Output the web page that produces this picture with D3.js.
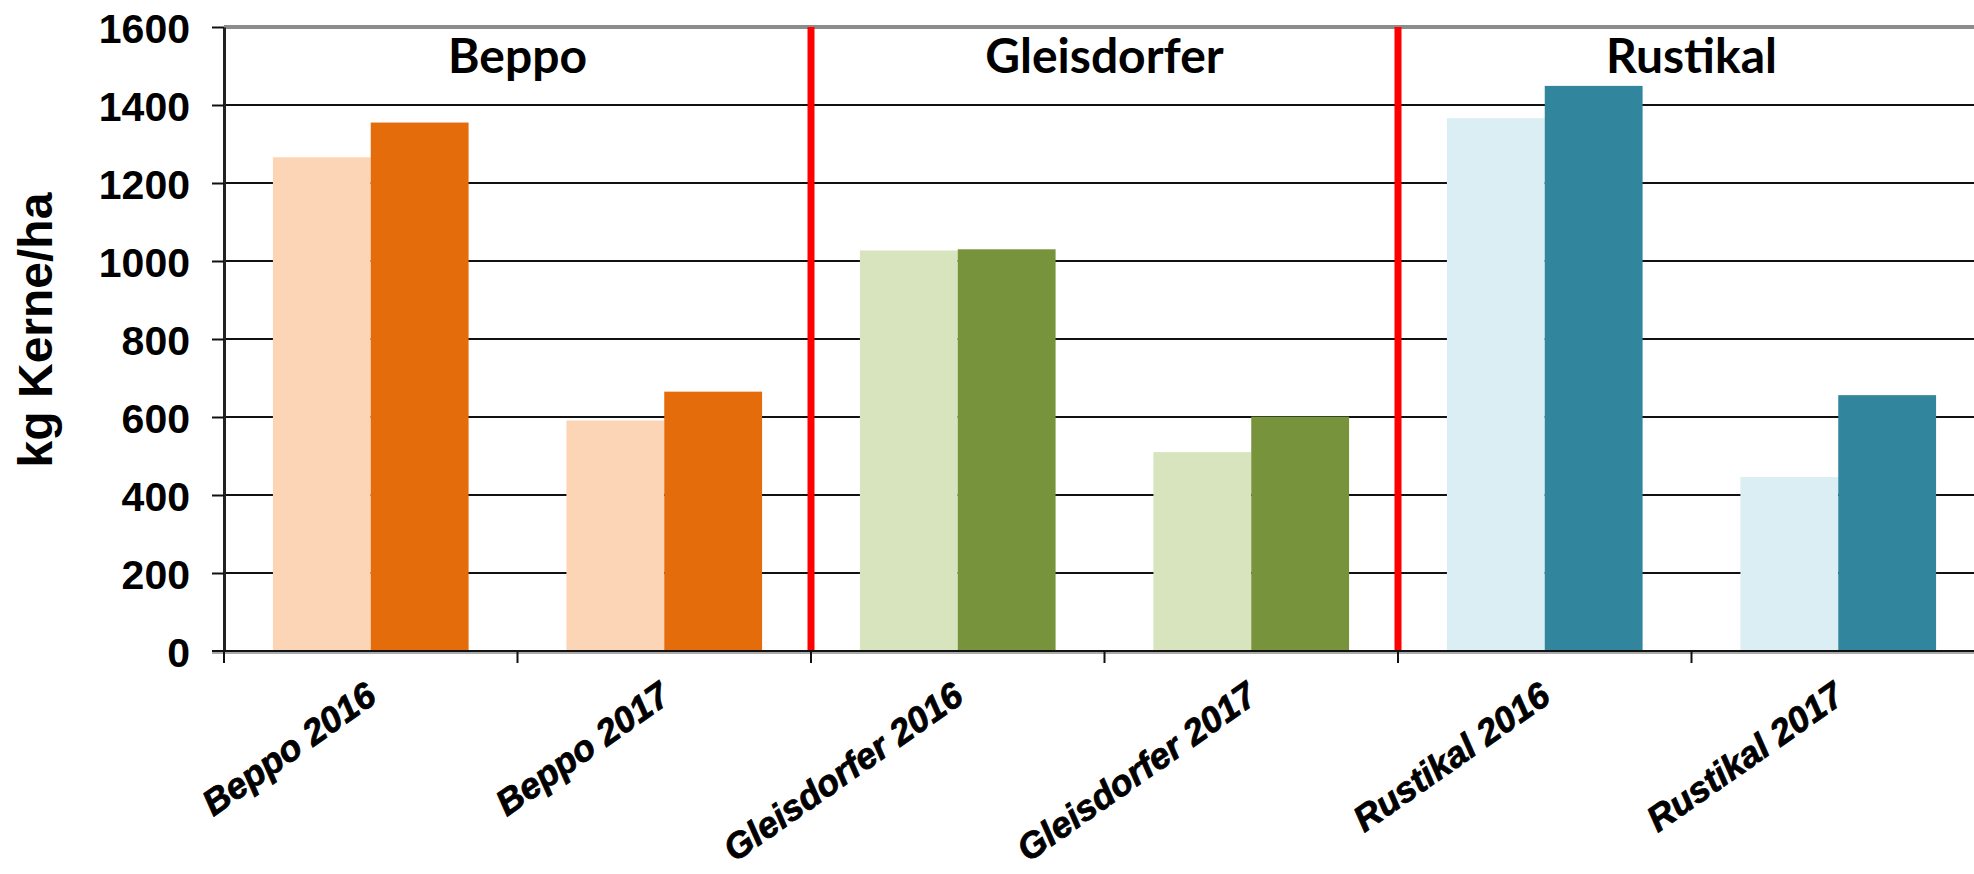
<!DOCTYPE html>
<html>
<head>
<meta charset="utf-8">
<script src="https://cdn.jsdelivr.net/npm/d3@7/dist/d3.min.js"></script>
<style>
  html, body { margin: 0; padding: 0; background: #fff; }
  svg { display: block; }
</style>
</head>
<body>
<script>
// ---- Data ----
const categories = ["Beppo 2016", "Beppo 2017", "Gleisdorfer 2016", "Gleisdorfer 2017", "Rustikal 2016", "Rustikal 2017"];
const groupOfCategory = ["Beppo", "Beppo", "Gleisdorfer", "Gleisdorfer", "Rustikal", "Rustikal"];
const groups = ["Beppo", "Gleisdorfer", "Rustikal"];
const seriesNames = ["hell", "dunkel"];
const valuesLight = [1266, 591, 1027, 510, 1366, 446];
const valuesDark = [1355, 665, 1030, 601, 1449, 656];
const yTicks = [0, 200, 400, 600, 800, 1000, 1200, 1400, 1600];
const yTitle = "kg Kerne/ha";

// ---- Styles ----
const groupColors = {
  Beppo: ["#FBD5B5", "#E46C0A"],
  Gleisdorfer: ["#D7E4BD", "#77933C"],
  Rustikal: ["#DBEEF4", "#31859C"]
};

const W = 1974, H = 874;
const margin = { left: 224, top: 27, bottom: 223 };
const plotRight = 1985;
const plotBottom = H - margin.bottom;

const svg = d3.select("body").append("svg").attr("width", W).attr("height", H);

const x0 = d3.scaleBand().domain(categories).range([margin.left, plotRight])
  .paddingInner(1 / 3).paddingOuter(1 / 6);
const x1 = d3.scaleBand().domain(seriesNames).range([0, x0.bandwidth()]);
const y = d3.scaleLinear().domain([0, 1600]).range([plotBottom, margin.top]);

const step = x0.step();
const boundary = c => x0(c) - step / 6;

// Gridlines
svg.append("g").selectAll("line").data(yTicks.filter(t => t > 0 && t < 1600)).join("line")
  .attr("x1", margin.left).attr("x2", W)
  .attr("y1", d => y(d)).attr("y2", d => y(d))
  .attr("stroke", "#111").attr("stroke-width", 2);
// top line
svg.append("line")
  .attr("x1", margin.left).attr("x2", W)
  .attr("y1", y(1600)).attr("y2", y(1600))
  .attr("stroke", "#8c8c8c").attr("stroke-width", 4);

// Bars
const data = categories.map((c, i) => ({ c, g: groupOfCategory[i], vals: [valuesLight[i], valuesDark[i]] }));
const gBars = svg.append("g").selectAll("g").data(data).join("g")
  .attr("transform", d => `translate(${x0(d.c)},0)`);
gBars.selectAll("rect").data(d => d.vals.map((v, j) => ({ v, s: seriesNames[j], color: groupColors[d.g][j] })))
  .join("rect")
  .attr("x", d => x1(d.s))
  .attr("width", x1.bandwidth())
  .attr("y", d => y(d.v))
  .attr("height", d => y(0) - y(d.v))
  .attr("fill", d => d.color);

// Red separators
const sepCats = categories.filter((c, i) => i > 0 && groupOfCategory[i] !== groupOfCategory[i - 1]);
svg.append("g").selectAll("line").data(sepCats).join("line")
  .attr("x1", d => boundary(d)).attr("x2", d => boundary(d))
  .attr("y1", y(1600)).attr("y2", y(0))
  .attr("stroke", "#ff0000").attr("stroke-width", 7);

// Y axis
const yAxis = d3.axisLeft(y).tickValues(yTicks).tickFormat(d3.format("d"))
  .tickSize(12).tickPadding(22).tickSizeOuter(0);
const gy = svg.append("g").attr("transform", `translate(${margin.left},0)`).call(yAxis);
gy.select(".domain").attr("stroke", "#222").attr("stroke-width", 3);
gy.selectAll(".tick line").attr("stroke", "#111").attr("stroke-width", 2);
gy.selectAll(".tick text")
  .attr("font-family", "'Liberation Sans', Arial, sans-serif")
  .attr("font-weight", "bold").attr("font-size", 41).attr("fill", "#000")
  .attr("dy", "0.38em");

// X axis line
svg.append("line").attr("x1", margin.left - 12).attr("x2", W)
  .attr("y1", y(0) + 1.5).attr("y2", y(0) + 1.5)
  .attr("stroke", "#aaa").attr("stroke-width", 3);
svg.append("line").attr("x1", margin.left - 12).attr("x2", W)
  .attr("y1", y(0)).attr("y2", y(0))
  .attr("stroke", "#111").attr("stroke-width", 2);

// X ticks at category boundaries
svg.append("g").selectAll("line").data(categories).join("line")
  .attr("x1", d => boundary(d)).attr("x2", d => boundary(d))
  .attr("y1", y(0)).attr("y2", y(0) + 12)
  .attr("stroke", "#111").attr("stroke-width", 2);

// X labels
svg.append("g").selectAll("text").data(categories).join("text")
  .attr("transform", d => `translate(${x0(d) + x0.bandwidth() / 2 + 8},${y(0) + 50}) rotate(-35)`)
  .attr("text-anchor", "end")
  .attr("font-family", "'Liberation Sans', Arial, sans-serif")
  .attr("font-weight", "bold").attr("font-style", "italic")
  .attr("font-size", 36).attr("fill", "#000")
  .attr("stroke", "#000").attr("stroke-width", 0.8)
  .text(d => d);

// Group labels
svg.append("g").selectAll("text").data(groups).join("text")
  .attr("x", g => {
    const cs = categories.filter((c, i) => groupOfCategory[i] === g);
    return (boundary(cs[0]) + boundary(cs[cs.length - 1]) + step) / 2;
  })
  .attr("y", 73)
  .attr("text-anchor", "middle")
  .attr("font-family", "Lato, 'Open Sans', sans-serif")
  .attr("font-weight", "bold").attr("font-size", 48).attr("fill", "#000")
  .text(g => g);

// Y title
svg.append("text")
  .attr("transform", `translate(52,330) rotate(-90)`)
  .attr("text-anchor", "middle")
  .attr("font-family", "'Liberation Sans', Arial, sans-serif")
  .attr("font-weight", "bold").attr("font-size", 48).attr("fill", "#000")
  .text(yTitle);
</script>
</body>
</html>
